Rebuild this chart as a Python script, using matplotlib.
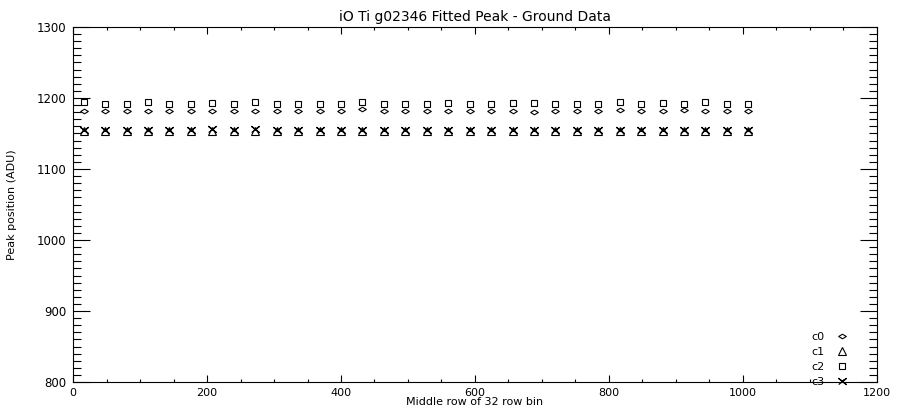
import matplotlib
matplotlib.use('Agg')
import matplotlib.pyplot as plt
from matplotlib.ticker import MultipleLocator

# middle row of each 32 row bin
rows = [16, 48, 80, 112, 144, 176, 208, 240, 272, 304, 336, 368, 400, 432, 464, 496,
        528, 560, 592, 624, 656, 688, 720, 752, 784, 816, 848, 880, 912, 944, 976, 1008]

# fitted peak position per chip (ADU)
c0 = [1182, 1182, 1182, 1182, 1182, 1182, 1182, 1182, 1182, 1182, 1182, 1182, 1182, 1184, 1182, 1182,
      1182, 1182, 1182, 1182, 1182, 1180, 1182, 1182, 1182, 1183, 1182, 1182, 1183, 1182, 1182, 1182]
c1 = [1153, 1153, 1153, 1153, 1153, 1153, 1153, 1153, 1153, 1153, 1153, 1153, 1153, 1153, 1153, 1153,
      1153, 1153, 1153, 1153, 1153, 1153, 1153, 1153, 1153, 1153, 1153, 1153, 1153, 1153, 1153, 1153]
c2 = [1194, 1192, 1192, 1194, 1192, 1192, 1193, 1192, 1194, 1192, 1192, 1192, 1192, 1194, 1192, 1192,
      1192, 1193, 1192, 1192, 1193, 1193, 1192, 1192, 1192, 1194, 1192, 1193, 1192, 1194, 1192, 1192]
c3 = [1155, 1155, 1155, 1155, 1155, 1155, 1156, 1155, 1156, 1155, 1155, 1155, 1155, 1155, 1155, 1155,
      1155, 1155, 1155, 1155, 1155, 1155, 1155, 1155, 1155, 1155, 1155, 1155, 1155, 1155, 1155, 1155]

# wide flat diamond / flat X like the IDL plot symbols
diamond = [(-1, 0), (0, 0.6), (1, 0), (0, -0.6), (-1, 0)]
flat_x = [(-1, -0.8), (1, 0.8), (0, 0), (-1, 0.8), (1, -0.8), (0, 0)]

fig = plt.figure(figsize=(8.98, 4.09), dpi=100)
ax = fig.add_axes([0.0813, 0.066, 0.8953, 0.868])

ax.plot(rows, c0, ls='none', marker=diamond, ms=5.5, mfc='none', mec='black', mew=0.8, label='c0')
ax.plot(rows, c1, ls='none', marker='^', ms=5.5, mfc='none', mec='black', mew=0.8, label='c1')
ax.plot(rows, c2, ls='none', marker='s', ms=5, mfc='none', mec='black', mew=0.8, label='c2')
ax.plot(rows, c3, ls='none', marker=flat_x, ms=5.5, mfc='none', mec='black', mew=0.9, label='c3')

ax.set_xlim(0, 1200)
ax.set_ylim(800, 1300)
ax.xaxis.set_major_locator(MultipleLocator(200))
ax.xaxis.set_minor_locator(MultipleLocator(50))
ax.yaxis.set_major_locator(MultipleLocator(100))
ax.yaxis.set_minor_locator(MultipleLocator(10))
ax.tick_params(which='both', direction='in', top=True, right=True, labelsize=8.5, width=0.8, pad=5)
ax.tick_params(axis='x', which='major', length=5, pad=4, labelsize=8)
ax.tick_params(axis='x', which='minor', length=2.5)
ax.tick_params(axis='y', which='major', length=12)
ax.tick_params(axis='y', which='minor', length=6)
for s in ax.spines.values():
    s.set_linewidth(0.8)

ax.set_title('iO Ti g02346 Fitted Peak - Ground Data', fontsize=10, pad=4)
ax.set_xlabel('Middle row of 32 row bin', fontsize=8)
ax.xaxis.set_label_coords(0.50, -0.043)
ax.set_ylabel('Peak position (ADU)', fontsize=8, family=['Liberation Sans Narrow', 'DejaVu Sans'], labelpad=14)

ax.legend(loc='lower right', bbox_to_anchor=(0.972, -0.03), frameon=False, markerfirst=False,
          fontsize=8, handlelength=1.2, handletextpad=1.0, labelspacing=0.45, borderpad=0)

fig.savefig('out.png', dpi=100)
